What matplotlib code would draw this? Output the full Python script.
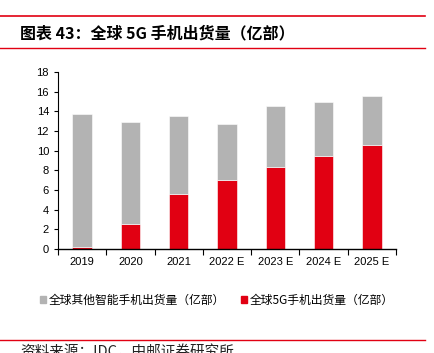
import matplotlib.pyplot as plt
import numpy as np
from matplotlib.lines import Line2D
from matplotlib.patches import Patch

plt.rcParams['font.family'] = ['Noto Sans CJK SC', 'DejaVu Sans']

# data (亿部)
years = ['2019', '2020', '2021', '2022 E', '2023 E', '2024 E', '2025 E']
shipments_5g = [0.2, 2.5, 5.6, 7.0, 8.3, 9.5, 10.6]
shipments_total = [13.7, 12.9, 13.55, 12.7, 14.5, 15.0, 15.55]
shipments_other = [t - r for t, r in zip(shipments_total, shipments_5g)]

grey = '#B3B3B3'
red = '#E10012'

fig = plt.figure(figsize=(4.34, 3.53), dpi=100)

# header lines and title
fig.add_artist(Line2D([0, 0.98], [1 - 16/353, 1 - 16/353], color=red, lw=1.2))
fig.add_artist(Line2D([0, 0.98], [1 - 48/353, 1 - 48/353], color=red, lw=1.0))
fig.text(20/434, 1 - 33/353, '图表 43：全球 5G 手机出货量（亿部）', fontsize=11.5,
         fontweight='bold', va='center', ha='left')

ax = fig.add_axes([58/434, 1 - 249/353, 338/434, 177/353])
x = np.arange(len(years))
ax.bar(x, shipments_5g, width=0.4, color=red, edgecolor='white', linewidth=0.4,
       label='全球5G手机出货量（亿部）', zorder=2)
ax.bar(x, shipments_other, width=0.4, bottom=shipments_5g, color=grey,
       edgecolor='white', linewidth=0.4, label='全球其他智能手机出货量（亿部）', zorder=2)

ax.set_xlim(-0.5, len(years) - 0.5)
ax.set_ylim(0, 18)
ax.set_yticks(range(0, 19, 2))
ax.set_xticks(x)
ax.set_xticklabels(years, fontsize=8, family=['Liberation Sans', 'DejaVu Sans'])
ax.set_xticks(np.arange(-0.5, len(years), 1), minor=True)
ax.tick_params(axis='x', which='major', length=0, pad=6)
ax.tick_params(axis='x', which='minor', length=4, direction='out', width=0.8)
ax.tick_params(axis='y', length=3, direction='out', width=0.8, labelsize=8)
for lbl in ax.get_yticklabels():
    lbl.set_family(['Liberation Sans', 'DejaVu Sans'])
for s in ['top', 'right']:
    ax.spines[s].set_visible(False)
ax.spines['left'].set_linewidth(0.8)
ax.spines['bottom'].set_linewidth(1.0)

handles = [Patch(color=grey), Patch(color=red)]
labels = ['全球其他智能手机出货量（亿部）', '全球5G手机出货量（亿部）']
fig.legend(handles, labels, loc='center', bbox_to_anchor=(0.5, 1 - 300/353), ncol=2,
           frameon=False, fontsize=8.5, handlelength=0.5, handleheight=0.5,
           handletextpad=0.2, columnspacing=1.4)

# footer
fig.add_artist(Line2D([0, 0.98], [1 - 340/353, 1 - 340/353], color=red, lw=1.0))
fig.text(20/434, 1 - 352/353, '资料来源：IDC，中邮证券研究所', fontsize=10.5,
         va='center', ha='left', color='#222222')

fig.savefig('out.png', dpi=100)
